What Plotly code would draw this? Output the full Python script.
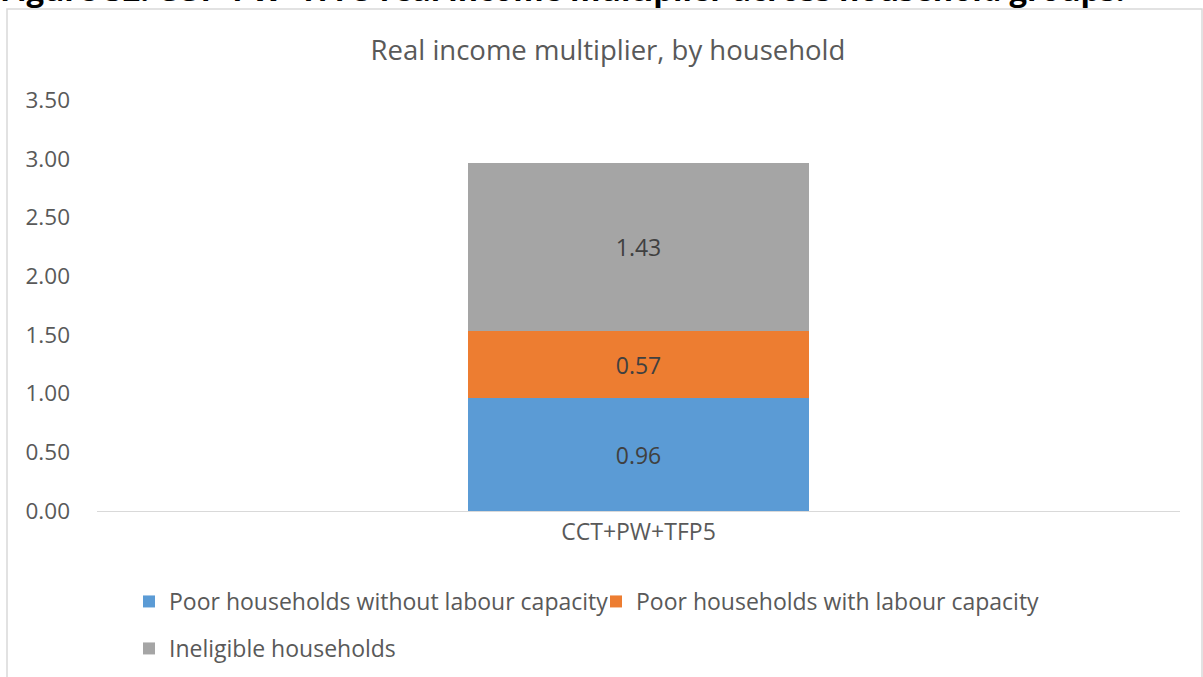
import plotly.graph_objects as go

# Stacked real income multiplier for one scenario, split by household group
categories = ["CCT+PW+TFP5"]
poor_no_labour = [0.96]
poor_with_labour = [0.57]
ineligible = [1.43]

series_names = [
    "Poor households without labour capacity",
    "Poor households with labour capacity",
    "Ineligible households",
]
series_colors = ["#5B9BD5", "#ED7D31", "#A5A5A5"]
tick_vals = [0, 0.5, 1.0, 1.5, 2.0, 2.5, 3.0, 3.5]

FONT = "Open Sans"
W, H = 1203, 677
L, R, T, B = 97, 23, 100, 166
PW, PH = W - L - R, H - T - B


def px_x(px):
    return (px - L) / PW


def px_y(py):
    return (H - B - py) / PH


fig = go.Figure()
for name, vals, color, leg in zip(
    series_names,
    [poor_no_labour, poor_with_labour, ineligible],
    series_colors,
    ["legend", "legend", "legend2"],
):
    fig.add_trace(
        go.Bar(
            x=categories,
            y=vals,
            name=name,
            marker=dict(color=color, line=dict(width=0)),
            text=[f"{v:.2f}" for v in vals],
            textposition="inside",
            insidetextanchor="middle",
            textfont=dict(family=FONT, size=23, color="#404040"),
            legend=leg,
            hoverinfo="skip",
        )
    )

fig.update_layout(
    width=W,
    height=H,
    margin=dict(l=L, r=R, t=T, b=B, autoexpand=False),
    paper_bgcolor="white",
    plot_bgcolor="white",
    barmode="stack",
    bargap=0.686,
    font=dict(family=FONT, color="#595959"),
    title=dict(
        text="Real income multiplier, by household",
        x=px_x(608),
        xref="paper",
        xanchor="center",
        y=1 - 50 / H,
        yanchor="middle",
        font=dict(family=FONT, size=27.5, color="#595959"),
    ),
    xaxis=dict(
        showline=True,
        linecolor="#D9D9D9",
        linewidth=1,
        ticks="",
        tickfont=dict(family=FONT, size=23, color="#595959"),
        showgrid=False,
    ),
    yaxis=dict(
        range=[0, 3.5],
        tickvals=tick_vals,
        tickformat=".2f",
        showgrid=False,
        zeroline=False,
        showline=False,
        ticks="",
        ticklabelstandoff=26,
        tickfont=dict(family=FONT, size=22.5, color="#595959"),
    ),
    legend=dict(
        orientation="h",
        x=px_x(129),
        y=px_y(580),
        xanchor="left",
        yanchor="top",
        font=dict(family=FONT, size=23, color="#595959"),
        itemclick=False,
        traceorder="normal",
        entrywidth=422,
        entrywidthmode="pixels",
    ),
    legend2=dict(
        orientation="h",
        x=px_x(129),
        y=px_y(627),
        xanchor="left",
        yanchor="top",
        font=dict(family=FONT, size=23, color="#595959"),
        itemclick=False,
    ),
    showlegend=True,
)

# Outer chart frame
fig.add_shape(
    type="rect",
    xref="paper",
    yref="paper",
    x0=px_x(7),
    x1=px_x(1202),
    y0=px_y(700),
    y1=px_y(9),
    line=dict(color="#D9D9D9", width=1.5),
    fillcolor="rgba(0,0,0,0)",
    layer="below",
)

# Figure caption above the frame
fig.add_annotation(
    text="<b>Figure 32: CCT+PW+TFP5 real income multiplier across household groups.</b>",
    xref="paper",
    yref="paper",
    x=px_x(-2),
    y=px_y(12),
    xanchor="left",
    yanchor="bottom",
    showarrow=False,
    font=dict(family=FONT, size=31, color="#000000"),
)

fig.write_html("out.html")
